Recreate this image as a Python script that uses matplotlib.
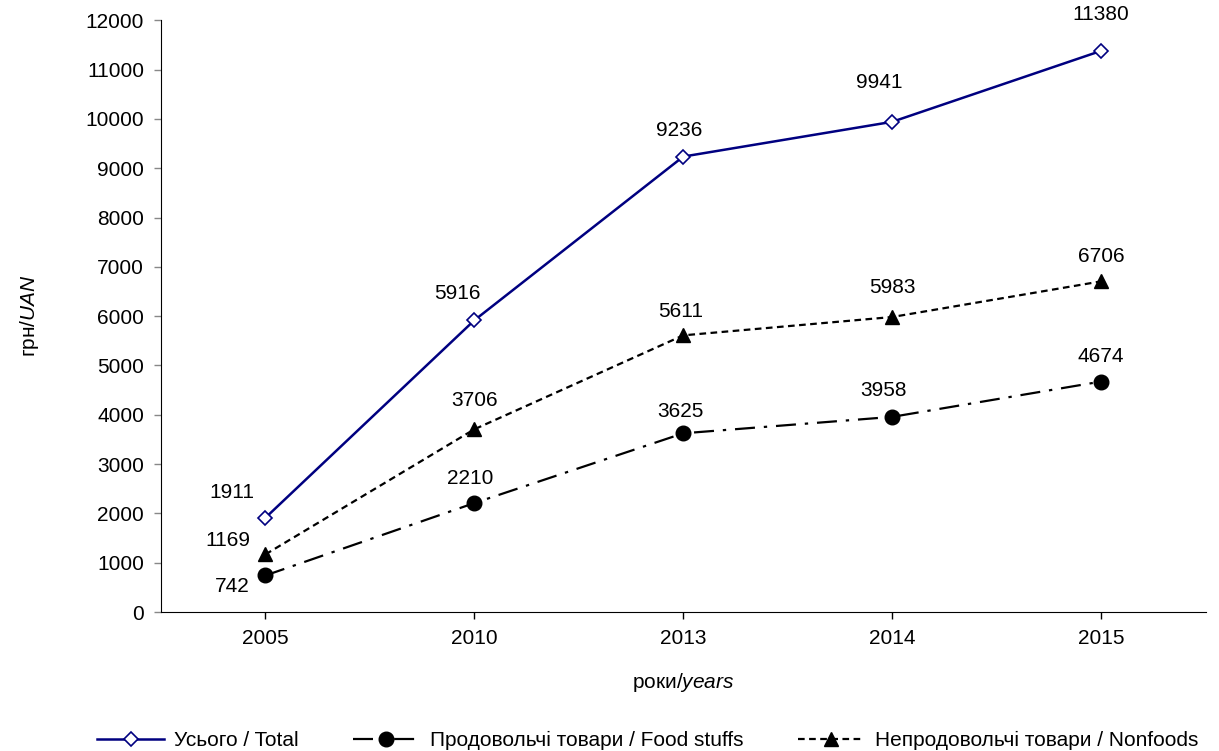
import matplotlib.pyplot as plt

plt.rcParams['font.family'] = ['Liberation Sans', 'DejaVu Sans']
plt.rcParams['mathtext.fontset'] = 'custom'
plt.rcParams['mathtext.rm'] = 'Liberation Sans'
plt.rcParams['mathtext.it'] = 'Liberation Sans:italic'

# data
years = ['2005', '2010', '2013', '2014', '2015']
total = [1911, 5916, 9236, 9941, 11380]
food = [742, 2210, 3625, 3958, 4674]
nonfood = [1169, 3706, 5611, 5983, 6706]

x = list(range(len(years)))

fig = plt.figure(figsize=(12.19, 7.51), dpi=100)
ax = fig.add_axes([0.132, 0.185, 0.857, 0.788])

ax.plot(x, total, color='#000080', lw=1.8, marker='D', ms=7,
        mfc='white', mec='#000080', mew=1.2, label='Усього / Total')
ax.plot(x, food, color='black', lw=1.6, ls=(0, (9, 4, 1.5, 4)), marker='o', ms=10.5,
        label='Продовольчі товари / Food stuffs')
ax.plot(x, nonfood, color='black', lw=1.6, ls=(0, (3, 2)), marker='^', ms=10,
        label='Непродовольчі товари / Nonfoods')

# label offsets (points)
total_off = [(-24, 18), (-12, 19), (-3, 19), (-9, 28), (0, 26)]
food_off = [(-24, -8), (-3, 18), (-2, 16), (-6, 19), (0, 18)]
nonfood_off = [(-27, 10), (0, 21), (-2, 17), (0, 21), (0, 18)]
for vals, offs in [(total, total_off), (food, food_off), (nonfood, nonfood_off)]:
    for xi, v, off in zip(x, vals, offs):
        ax.annotate(str(v), (xi, v), xytext=off, textcoords='offset points',
                    ha='center', va='center', fontsize=15)

ax.set_xlim(-0.5, 4.5)
ax.set_ylim(0, 12000)
ax.set_yticks(range(0, 12001, 1000))
ax.set_xticks(x)
ax.set_xticklabels(years)
ax.tick_params(labelsize=15, length=5, width=1, pad=7)
ax.tick_params(axis='y', color='#888888')
ax.spines['top'].set_visible(False)
ax.spines['right'].set_visible(False)

ax.set_ylabel('грн/$\\it{UAN}$', fontsize=15)
ax.set_xlabel('роки/$\\it{years}$', fontsize=15)
ax.yaxis.set_label_coords(-0.115, 0.5)
ax.xaxis.set_label_coords(0.5, -0.1)

ax.legend(loc='upper center', bbox_to_anchor=(0.466, -0.17), ncol=3, frameon=False,
          fontsize=15, handlelength=3.2, columnspacing=2.6, handletextpad=0.5)

fig.savefig('out.png', dpi=100)
